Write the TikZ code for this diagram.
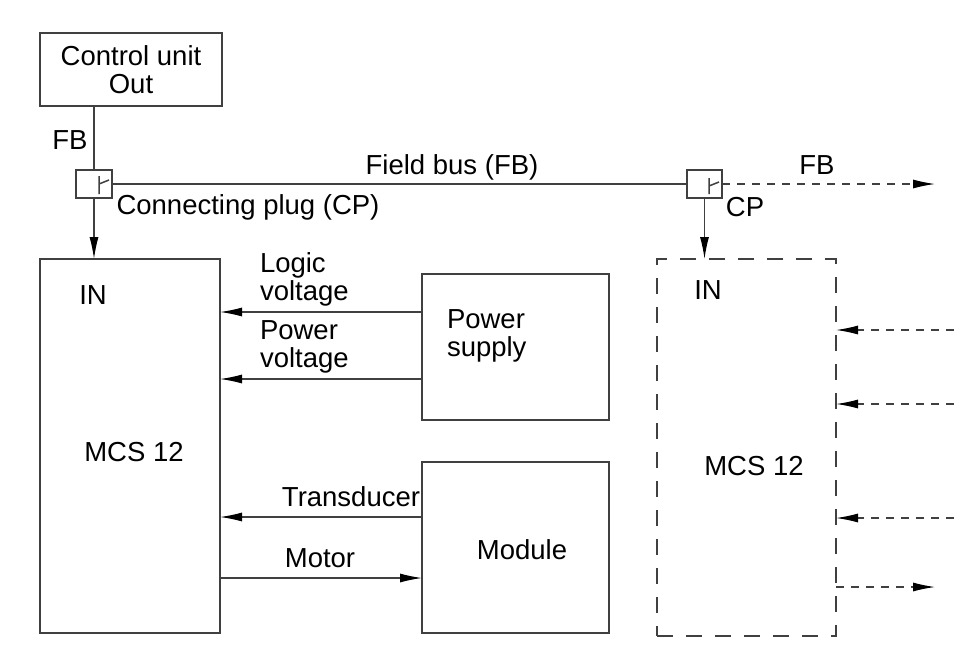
\documentclass[tikz,border=0pt]{standalone}
\usepackage{fontspec}
\setmainfont{Liberation Sans}
\usetikzlibrary{arrows.meta}
\begin{document}
\begin{tikzpicture}[x=1pt,y=-1pt,
  every node/.style={inner sep=0pt, outer sep=0pt, font=\fontsize{27.5}{28}\selectfont},
  box/.style={draw=black!75, line width=1.2pt, minimum width=#1},
  ln/.style={draw=black!75, line width=1.2pt},
  tip/.style={-{Latex[length=22pt,width=9pt,color=black]}},
  arr/.style={ln, tip},
  darr/.style={ln, dash pattern=on 8pt off 7pt, tip},
  dbox/.style={draw=black!75, line width=1.2pt, dash pattern=on 16pt off 13pt},
  lbl/.style={align=left}
]
\useasboundingbox (0,0) rectangle (954,646);

% boxes
\node[box=182pt, minimum height=73pt, align=center] (cu) at (131,69.5) {Control unit\\Out};
\node[box=36pt, minimum height=28pt] (plugA) at (94,184) {};
\node[box=35pt, minimum height=28pt] (plugB) at (704.5,184) {};
\node[box=180pt, minimum height=374pt] (mcsA) at (130,446) {};
\node[dbox, minimum width=179pt, minimum height=377pt] (mcsB) at (746.5,447.5) {};
\node[box=187pt, minimum height=146pt] (ps) at (515.5,347) {};
\node[box=187pt, minimum height=171pt] (mod) at (515.5,547.5) {};

% plug symbols
\draw[ln, line width=1.5pt] (99,176) -- (99,194) (99,184) -- (109,180);
\draw[ln, line width=1.5pt] (709,178) -- (709,194) (709,186) -- (719,182);

% texts in boxes
\node (inA) at (93,295) {IN};
\node (mcsAt) at (134,452) {MCS 12};
\node (inB) at (708,290) {IN};
\node (mcsBt) at (754,466) {MCS 12};
\node[lbl, anchor=west] (pst) at (447,336) {Power\\supply};
\node (modt) at (522,550) {Module};

% labels
\node (fbA) at (70,140) {FB};
\node (fieldbus) at (452,167) {Field bus (FB)};
\node (cpA) at (248,207) {Connecting plug (CP)};
\node (fbB) at (817,165) {FB};
\node (cpB) at (745,207) {CP};
\node[lbl, anchor=west] (logic) at (260,279) {Logic\\voltage};
\node[lbl, anchor=west] (power) at (260,346.5) {Power\\voltage};
\node (trans) at (351,497) {Transducer};
\node (motor) at (320,558) {Motor};

% connectors
\draw[ln] (cu.south -| plugA) -- (plugA.north);
\draw[arr] (plugA.south) -- (plugA.south |- mcsA.north);
\draw[ln] (plugA.east) -- (plugB.west);
\draw[arr] (plugB.south) -- (plugB.south |- mcsB.north);
\coordinate (fbEnd) at (935,184);
\draw[darr] (plugB.east) -- (fbEnd);

\coordinate (y1) at (0,312);
\coordinate (y2) at (0,379);
\coordinate (y3) at (0,517);
\coordinate (y4) at (0,578);
\draw[arr] (ps.west |- y1) -- (mcsA.east |- y1);
\draw[arr] (ps.west |- y2) -- (mcsA.east |- y2);
\draw[arr] (mod.west |- y3) -- (mcsA.east |- y3);
\draw[arr] (mcsA.east |- y4) -- (mod.west |- y4);

\coordinate (r1) at (954,330);
\coordinate (r2) at (954,404);
\coordinate (r3) at (954,518);
\coordinate (r4) at (935,587);
\draw[darr] (r1) -- (mcsB.east |- r1);
\draw[darr] (r2) -- (mcsB.east |- r2);
\draw[darr] (r3) -- (mcsB.east |- r3);
\draw[darr] (mcsB.east |- r4) -- (r4);
\end{tikzpicture}
\end{document}
